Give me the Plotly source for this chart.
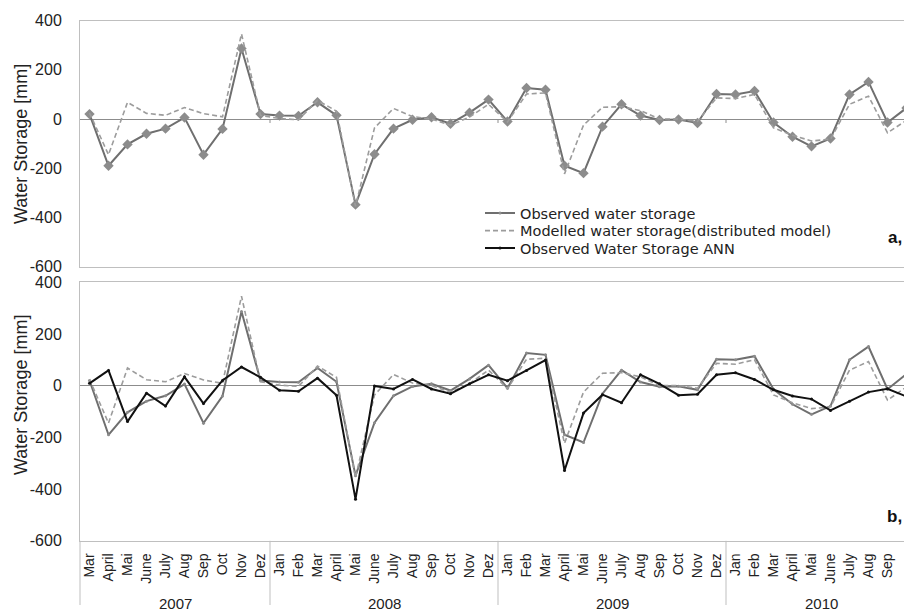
import plotly.graph_objects as go

# ---------------- data ----------------
years = ["2007", "2008", "2009", "2010"]
months_by_year = [
    ["Mar", "April", "Mai", "June", "July", "Aug", "Sep", "Oct", "Nov", "Dez"],
    ["Jan", "Feb", "Mar", "April", "Mai", "June", "July", "Aug", "Sep", "Oct", "Nov", "Dez"],
    ["Jan", "Feb", "Mar", "April", "Mai", "June", "July", "Aug", "Sep", "Oct", "Nov", "Dez"],
    ["Jan", "Feb", "Mar", "April", "Mai", "June", "July", "Aug", "Sep", "Oct"],
]

observed = [20, -190, -103, -60, -39, 6, -145, -40, 287, 20,
            14, 13, 68, 15, -348, -143, -39, -3, 7, -19, 26, 79,
            -10, 126, 119, -190, -220, -31, 60, 14, -4, -2, -16, 102,
            100, 114, -14, -72, -111, -79, 100, 151, -14, 45]

modelled = [25, -145, 68, 23, 15, 47, 22, 9, 346, 15,
            2, -3, 76, 32, -355, -36, 43, 10, 0, -25, 8, 60,
            -12, 102, 106, -223, -25, 48, 50, 34, 0, 0, -10, 86,
            83, 100, -36, -66, -89, -82, 60, 93, -56, -5]

ann = [9, 59, -139, -29, -79, 34, -69, 20, 72, 32,
       -18, -22, 29, -37, -439, -1, -13, 24, -13, -31, 7, 42,
       19, 59, 99, -328, -106, -35, -66, 42, 7, -37, -33, 42,
       50, 24, -16, -40, -52, -96, -60, -25, -12, -42]

y_ticks = [-600, -400, -200, 0, 200, 400]
y_tick_labels = ["-600", "-400", "-200", "0", "200", "400"]

# ---------------- derived positions ----------------
month_labels = [m for ms in months_by_year for m in ms]
xs = list(range(len(month_labels)))
year_centers, boundaries = [], []
start = 0
for ms in months_by_year:
    end = start + len(ms) - 1
    year_centers.append((start + end) / 2)
    boundaries.append(end + 0.5)
    start = end + 1
boundaries = boundaries[:-1]

W, H = 904, 614
FONT = "Liberation Sans, Arial, sans-serif"
LFONT = "DejaVu Sans, sans-serif"
C_OBS = "#6f6f6f"
C_OBS_M = "#8c8c8c"
C_MOD = "#9c9c9c"
C_ANN = "#111111"
C_AX = "#bfbfbf"
C_ZERO = "#8c8c8c"

fig = go.Figure()

# top panel
fig.add_trace(go.Scatter(x=xs, y=observed, mode="lines+markers", xaxis="x", yaxis="y",
                         line=dict(color=C_OBS, width=2),
                         marker=dict(symbol="diamond", size=8, color=C_OBS_M),
                         showlegend=False))
fig.add_trace(go.Scatter(x=xs, y=modelled, mode="lines", xaxis="x", yaxis="y",
                         line=dict(color=C_MOD, width=1.6, dash="5px,3px"),
                         showlegend=False))

# bottom panel
fig.add_trace(go.Scatter(x=xs, y=observed, mode="lines+markers", xaxis="x2", yaxis="y2",
                         name="Observed water storage", legend="legend",
                         line=dict(color=C_OBS, width=2),
                         marker=dict(size=3, color=C_OBS_M)))
fig.add_trace(go.Scatter(x=xs, y=modelled, mode="lines", xaxis="x2", yaxis="y2",
                         name="Modelled water storage(distributed model)", legend="legend2",
                         line=dict(color=C_MOD, width=1.6, dash="5px,3px")))
fig.add_trace(go.Scatter(x=xs, y=ann, mode="lines+markers", xaxis="x2", yaxis="y2",
                         name="Observed Water Storage ANN", legend="legend3",
                         line=dict(color=C_ANN, width=2),
                         marker=dict(size=3, color=C_ANN)))

x_left = 80 / W
x_range = [-0.5, -0.5 + (W - 80) / 19.0]


def ydom(top_px, bot_px):
    return [(H - bot_px) / H, (H - top_px) / H]


common_x = dict(domain=[x_left, 1], range=x_range, showgrid=False, zeroline=False,
                showline=True, linecolor=C_AX, linewidth=1, mirror=True, ticks="")
common_y = dict(range=[-600, 400], tickvals=y_ticks, ticktext=y_tick_labels, showgrid=False,
                zeroline=True, zerolinecolor=C_ZERO, zerolinewidth=1,
                showline=True, linecolor=C_AX, linewidth=1, ticks="",
                ticklabelstandoff=14, tickfont=dict(size=16, color="#222222", family=FONT))


def leg(py):
    return dict(x=480 / W, y=(H - py) / H, xanchor="left", yanchor="middle",
                font=dict(family=LFONT, size=14.5, color="#222222"),
                bgcolor="rgba(255,255,255,0)", itemwidth=30, borderwidth=0)


fig.update_layout(
    width=W, height=H,
    margin=dict(l=0, r=0, t=0, b=0),
    paper_bgcolor="white", plot_bgcolor="white",
    font=dict(family=FONT, color="#111111"),
    xaxis=dict(**common_x, anchor="y", showticklabels=False),
    yaxis=dict(**common_y, domain=ydom(13, 266), anchor="x"),
    xaxis2=dict(**common_x, anchor="y2", tickvals=xs, ticktext=month_labels,
                tickangle=-90, tickfont=dict(size=14, color="#222222", family=FONT),
                ticklabelstandoff=6),
    yaxis2=dict(**common_y, domain=ydom(282, 548), anchor="x2"),
    legend=leg(211),
    legend2=leg(229),
    legend3=leg(247),
)

shapes = []
for b in boundaries:
    shapes.append(dict(type="line", xref="x2", yref="paper", x0=b, x1=b,
                       y0=0, y1=(H - 548) / H, line=dict(color=C_AX, width=1)))
    shapes.append(dict(type="line", xref="x", yref="y", x0=b, x1=b,
                       y0=0, y1=-16, line=dict(color=C_ZERO, width=1)))
shapes.append(dict(type="line", xref="paper", yref="paper", x0=x_left, x1=x_left,
                   y0=0, y1=(H - 548) / H, line=dict(color=C_AX, width=1)))
fig.update_layout(shapes=shapes)

annotations = []
for yr, c in zip(years, year_centers):
    annotations.append(dict(x=c, y=(H - 612) / H, xref="x2", yref="paper", text=yr,
                            xanchor="center", yanchor="middle",
                            showarrow=False, font=dict(size=15, color="#222222", family=FONT)))
for txt, py in [("Water Storage [mm]", 140), ("Water Storage [mm]", 398)]:
    annotations.append(dict(x=21 / W, y=(H - py) / H, xref="paper", yref="paper", text=txt,
                            textangle=-90, xanchor="center", yanchor="middle", showarrow=False,
                            font=dict(size=18, color="#222222", family=FONT)))
annotations.append(dict(x=1, y=(H - 236) / H, xref="paper", yref="paper", text="<b>a,</b>",
                        xanchor="right", yanchor="middle", showarrow=False,
                        font=dict(size=17, family=FONT)))
annotations.append(dict(x=1, y=(H - 523) / H, xref="paper", yref="paper", text="<b>b,</b>",
                        xanchor="right", yanchor="middle", showarrow=False,
                        font=dict(size=17, family=FONT)))
fig.update_layout(annotations=annotations)

fig.write_html("out.html")
